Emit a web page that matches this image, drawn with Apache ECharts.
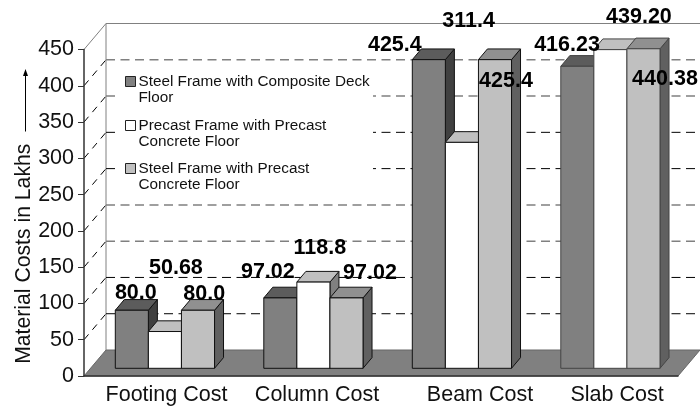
<!DOCTYPE html>
<html>
<head>
<meta charset="utf-8">
<style>html,body{margin:0;padding:0;background:#fff}#chart{width:700px;height:409px}</style>
<script src="https://cdn.jsdelivr.net/npm/echarts@6/dist/echarts.min.js"></script>
</head>
<body>
<div id="chart"></div>
<script>
// Material costs per building element, one array per framing system
const categories = ['Footing Cost', 'Column Cost', 'Beam Cost', 'Slab Cost'];
const yTicks = [0, 50, 100, 150, 200, 250, 300, 350, 400, 450];
const steelComposite = [80.0, 97.02, 425.4, 416.23];
const precastPrecast = [50.68, 118.8, 311.4, 439.20];
const steelPrecast = [80.0, 97.02, 425.4, 440.38];
const steelCompositeText = ['80.0', '97.02', '425.4', '416.23'];
const precastPrecastText = ['50.68', '118.8', '311.4', '439.20'];
const steelPrecastText = ['80.0', '97.02', '425.4', '440.38'];
const seriesNames = [
  'Steel Frame with Composite Deck\nFloor',
  'Precast Frame with Precast\nConcrete Floor',
  'Steel Frame with Precast\nConcrete Floor'
];

// Hand placement of the value labels, relative to each bar's top
const labelShiftA = [[4, -17.5], [-12.5, -25.8], [-34, -14.2], [-10.3, -20.8]];
const labelShiftB = [[11, -63], [6.5, -33.7], [6.7, -121], [28.5, -32.4]];
const labelShiftC = [[6.3, -16.5], [23.5, -25.1], [11, 21.1], [21.5, 30]];
const categoryPad = [16.5, 20.5, 49.5, 26.5];
const edgeTones = ['#111', '#111', '#111', '#444'];

const FONT = '"Liberation Sans", Arial, sans-serif';
const WALL_DX = 22, WALL_DY = 26;     // depth of the whole plot box
const BAR_DX = 9, BAR_DY = 10.7;      // depth of one bar
const ROW_DX = 6.6, ROW_DY = 7.7;     // bars stand slightly behind the front edge
const GROUP_START = 0.2108, BAR_RATIO = 0.2227;

const palettes = [
  { front: '#808080', top: '#5c5c5c', side: '#404040' },
  { front: '#ffffff', top: '#c0c0c0', side: '#808080' },
  { front: '#c0c0c0', top: '#909090', side: '#606060' }
];
const lineTones = {
  0: '#404040', 50: '#000000', 100: '#000000', 150: '#808080', 200: '#808080',
  250: '#000000', 300: '#000000', 350: '#808080', 400: '#808080', 450: '#808080'
};

function barRenderer(seriesIdx) {
  const pal = palettes[seriesIdx];
  return function (params, api) {
    const cat = api.value(0);
    const band = api.size([1, 0])[0];
    const centre = api.coord([cat, 0]);
    const w = band * BAR_RATIO;
    const x0 = centre[0] - band / 2 + band * GROUP_START + seriesIdx * w;
    const yBase = centre[1] - ROW_DY;
    const yTop = api.coord([cat, api.value(1)])[1] - ROW_DY;
    const stroke = { stroke: edgeTones[cat], lineWidth: 1, lineJoin: 'round' };
    return {
      type: 'group',
      children: [
        { type: 'polygon', shape: { points: [[x0 + w, yTop], [x0 + w + BAR_DX, yTop - BAR_DY], [x0 + w + BAR_DX, yBase - BAR_DY], [x0 + w, yBase]] },
          style: Object.assign({ fill: pal.side }, stroke) },
        { type: 'polygon', shape: { points: [[x0, yTop], [x0 + BAR_DX, yTop - BAR_DY], [x0 + w + BAR_DX, yTop - BAR_DY], [x0 + w, yTop]] },
          style: Object.assign({ fill: pal.top }, stroke) },
        { type: 'rect', shape: { x: x0, y: yTop, width: w, height: yBase - yTop },
          style: Object.assign({ fill: pal.front }, stroke) }
      ]
    };
  };
}

function labelRenderer(seriesIdx, texts, shifts) {
  return function (params, api) {
    const cat = api.value(0);
    const band = api.size([1, 0])[0];
    const centre = api.coord([cat, 0]);
    const w = band * BAR_RATIO;
    const xMid = centre[0] - band / 2 + band * GROUP_START + (seriesIdx + 0.5) * w;
    const yTop = api.coord([cat, api.value(1)])[1] - ROW_DY;
    return {
      type: 'text',
      x: xMid + shifts[cat][0],
      y: yTop + shifts[cat][1],
      style: { text: texts[cat], fill: '#000', font: 'bold 21.5px ' + FONT, align: 'center', verticalAlign: 'middle' }
    };
  };
}

// Floor, back wall, side-wall diagonals and horizontal grid lines
function frameRenderer(params, api) {
  const box = params.coordSys;
  const tick = api.value(1);
  const y = api.coord([0, tick])[1];
  const xL = box.x, xR = box.x + box.width;
  const tone = lineTones[tick];
  const children = [];
  if (tick === 0) {
    children.push({ type: 'polygon',
      shape: { points: [[xL, y], [xR, y], [xR + WALL_DX, y - WALL_DY], [xL + WALL_DX, y - WALL_DY]] },
      style: { fill: '#808080', stroke: '#666', lineWidth: 1 } });
    children.push({ type: 'line',
      shape: { x1: xL + WALL_DX, y1: y - WALL_DY, x2: xL + WALL_DX, y2: api.coord([0, 450])[1] - WALL_DY },
      style: { stroke: '#808080', lineWidth: 1 } });
  } else {
    const solid = tick === 450;
    children.push({ type: 'line',
      shape: { x1: xL, y1: y, x2: xL + WALL_DX, y2: y - WALL_DY },
      style: { stroke: solid ? '#808080' : '#000', lineWidth: 1, lineDash: solid ? null : [7, 6] } });
    children.push({ type: 'line',
      shape: { x1: xL + WALL_DX, y1: y - WALL_DY, x2: xR + WALL_DX, y2: y - WALL_DY },
      style: { stroke: tone, lineWidth: tone === '#000000' || solid ? 1 : 1.5, lineDash: solid ? null : [9, 5.5] } });
  }
  return { type: 'group', children: children };
}

// Legend block: white panel that interrupts the grid, square swatches, two-line names
const legendY = [81, 125, 168];
const legendGraphics = [{ type: 'rect', left: 116, top: 66, z: 3,
  shape: { width: 257, height: 134 }, style: { fill: '#fff' } }];
seriesNames.forEach((name, i) => {
  legendGraphics.push({ type: 'rect', left: 125, top: legendY[i] - 5, z: 3,
    shape: { width: 10, height: 10 }, style: { fill: palettes[i].front, stroke: '#222', lineWidth: 1 } });
  legendGraphics.push({ type: 'text', left: 138.5, top: legendY[i] - 7, z: 3,
    style: { text: name, fill: '#111', font: '15.3px ' + FONT, lineHeight: 16 } });
});
// Upward arrow beside the axis title
legendGraphics.push({ type: 'line', z: 3, shape: { x1: 25.5, y1: 131.5, x2: 25.5, y2: 74 }, style: { stroke: '#000', lineWidth: 1 } });
legendGraphics.push({ type: 'polygon', z: 3, shape: { points: [[25.5, 69], [28, 76], [23, 76]] }, style: { fill: '#000' } });

const barSeries = [steelComposite, precastPrecast, steelPrecast].map((vals, i) => ({
  name: seriesNames[i],
  type: 'custom',
  coordinateSystem: 'cartesian2d',
  z: 3,
  clip: false,
  renderItem: barRenderer(i),
  encode: { x: 0, y: 1 },
  data: vals.map((v, c) => [c, v])
}));

const labelSeries = [
  [steelComposite, steelCompositeText, labelShiftA],
  [precastPrecast, precastPrecastText, labelShiftB],
  [steelPrecast, steelPrecastText, labelShiftC]
].map(([vals, texts, shifts], i) => ({
  name: 'labels' + i,
  type: 'custom',
  coordinateSystem: 'cartesian2d',
  z: 6,
  clip: false,
  renderItem: labelRenderer(i, texts, shifts),
  encode: { x: 0, y: 1 },
  data: vals.map((v, c) => [c, v])
}));

const richCats = {};
categoryPad.forEach((p, i) => {
  richCats['c' + i] = { fontFamily: FONT, fontSize: 21.5, color: '#111', padding: [0, 0, 0, p] };
});

const chart = echarts.init(document.getElementById('chart'), null, { renderer: 'canvas' });
chart.setOption({
  animation: false,
  backgroundColor: '#fff',
  grid: { left: 84, right: 22, top: 49.5, bottom: 33, containLabel: false, outerBoundsMode: 'none' },
  graphic: legendGraphics,
  xAxis: {
    type: 'category',
    data: categories,
    z: 2,
    axisTick: { show: false },
    axisLine: { show: true, lineStyle: { color: '#333', width: 1.5 } },
    axisLabel: {
      interval: 0,
      margin: 8,
      formatter: (v, i) => '{c' + i + '|' + v + '}',
      rich: richCats
    }
  },
  yAxis: {
    type: 'value',
    min: 0,
    max: 450,
    interval: 50,
    z: 2,
    name: 'Material Costs in Lakhs',
    nameLocation: 'middle',
    nameGap: 49.5,
    nameMoveOverlap: false,
    nameRotate: 90,
    nameTextStyle: { fontFamily: FONT, fontSize: 21.2, color: '#111', padding: [0, 82, 0, 0] },
    splitLine: { show: false },
    axisLine: { show: true, lineStyle: { color: '#333', width: 1.5 } },
    axisTick: { show: true, length: 6, lineStyle: { color: '#333' } },
    axisLabel: { fontFamily: FONT, fontSize: 21.5, color: '#111', margin: 10, padding: [3, 0, 0, 0],
      showMinLabel: true, showMaxLabel: true, customValues: yTicks }
  },
  series: [{
    type: 'custom',
    name: 'frame',
    coordinateSystem: 'cartesian2d',
    z: 1,
    clip: false,
    renderItem: frameRenderer,
    encode: { x: 0, y: 1 },
    data: yTicks.map(t => [0, t])
  }].concat(barSeries, labelSeries)
});
</script>
</body>
</html>
